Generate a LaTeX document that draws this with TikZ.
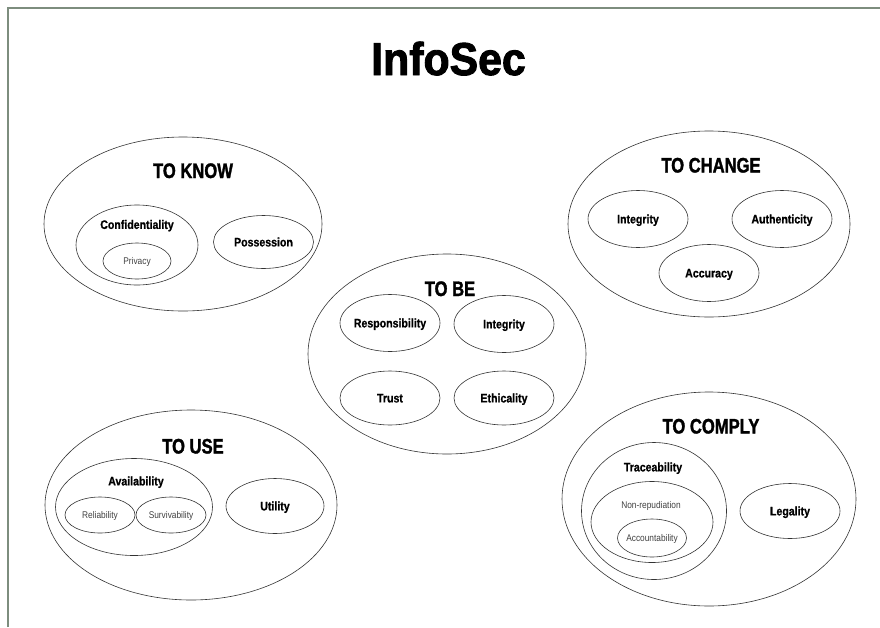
\documentclass[tikz,border=0pt]{standalone}
\usepackage{fontspec}
\setmainfont[FakeStretch=0.86, BoldFeatures={FakeBold=0.8}]{Liberation Sans}
\newfontfamily\groupfont[FakeStretch=0.79, BoldFeatures={FakeBold=1.5}]{Liberation Sans}
\newfontfamily\headfont[FakeStretch=0.93, BoldFeatures={FakeBold=2}]{Liberation Sans}
\usetikzlibrary{shapes.geometric}
\definecolor{framegreen}{HTML}{7D8D7E}

\begin{document}
\begin{tikzpicture}[x=1pt,y=-1pt,
  ring/.style={ellipse, draw=black!80, line width=0.6pt, inner xsep=-15pt, inner ysep=0pt},
  grouptitle/.style={inner sep=0pt, text height=15pt, text depth=0pt,
    font=\groupfont\fontsize{21}{24}\selectfont\bfseries},
  bigtag/.style={text height=8.8pt, text depth=0pt,
    font=\fontsize{12.3}{14}\selectfont\bfseries},
  smalltag/.style={text height=7pt, text depth=0pt, text=black!75,
    font=\fontsize{9.7}{11}\selectfont},
  item/.style={ring, bigtag},
  subitem/.style={ring, smalltag}
]
\useasboundingbox (0,0) rectangle (880,627);

% page frame
\draw[framegreen, line width=1.3pt] (8,627) -- (8,8) -- (880,8);

% heading
\node[inner sep=0pt, text height=33pt, text depth=0pt,
      font=\headfont\fontsize{46}{50}\selectfont\bfseries] (title) at (448.5,58.5) {InfoSec};

% ---------- TO KNOW ----------
\node[ring, minimum width=278pt, minimum height=174pt] (know) at (183,224) {};
\node[grouptitle] (knowT) at (193,170.5) {TO KNOW};
\node[ring, minimum width=122pt, minimum height=80pt] (conf) at (137,245) {};
\node[bigtag, inner sep=0pt] (confT) at (137,224.5) {Confidentiality};
\node[subitem, minimum width=68pt, minimum height=36pt] (priv) at (137,261) {Privacy};
\node[item, minimum width=100pt, minimum height=53pt] (poss) at (263.5,242) {Possession};

% ---------- TO CHANGE ----------
\node[ring, minimum width=282pt, minimum height=186pt] (change) at (709,224) {};
\node[grouptitle] (changeT) at (711,165) {TO CHANGE};
\node[item, minimum width=100pt, minimum height=57pt] (integC) at (638,219) {Integrity};
\node[item, minimum width=100pt, minimum height=57pt] (auth) at (782,219) {Authenticity};
\node[item, minimum width=100pt, minimum height=57pt] (accu) at (709,273) {Accuracy};

% ---------- TO BE ----------
\node[ring, minimum width=278pt, minimum height=200pt] (be) at (447,354) {};
\node[grouptitle] (beT) at (450,288.5) {TO BE};
\node[item, minimum width=100pt, minimum height=57pt] (resp) at (390,323) {Responsibility};
\node[item, minimum width=100pt, minimum height=57pt] (integB) at (504,324) {Integrity};
\node[item, minimum width=100pt, minimum height=54pt] (trust) at (390,398) {Trust};
\node[item, minimum width=100pt, minimum height=54pt] (ethic) at (504,398) {Ethicality};

% ---------- TO USE ----------
\node[ring, minimum width=292pt, minimum height=190pt] (use) at (191,505) {};
\node[grouptitle] (useT) at (193,446) {TO USE};
\node[ring, minimum width=157pt, minimum height=97pt] (avail) at (134,507) {};
\node[bigtag, inner sep=0pt] (availT) at (136,481) {Availability};
\node[subitem, minimum width=70pt, minimum height=36pt] (reli) at (100,515) {Reliability};
\node[subitem, minimum width=70pt, minimum height=36pt] (surv) at (171,515) {Survivability};
\node[item, minimum width=98pt, minimum height=55pt] (util) at (275,506) {Utility};

% ---------- TO COMPLY ----------
\node[ring, minimum width=294pt, minimum height=214pt] (comply) at (709,499) {};
\node[grouptitle] (complyT) at (711,426) {TO COMPLY};
\node[ring, minimum width=145pt, minimum height=137pt] (trace) at (654,511) {};
\node[bigtag, inner sep=0pt] (traceT) at (653,467) {Traceability};
\node[ring, minimum width=122pt, minimum height=81pt] (nonrep) at (652,522) {};
\node[smalltag, inner sep=0pt] (nonrepT) at (651,505) {Non-repudiation};
\node[subitem, minimum width=69pt, minimum height=38pt] (acct) at (652,538) {Accountability};
\node[item, minimum width=100pt, minimum height=55pt] (legal) at (790,511) {Legality};

\end{tikzpicture}
\end{document}
